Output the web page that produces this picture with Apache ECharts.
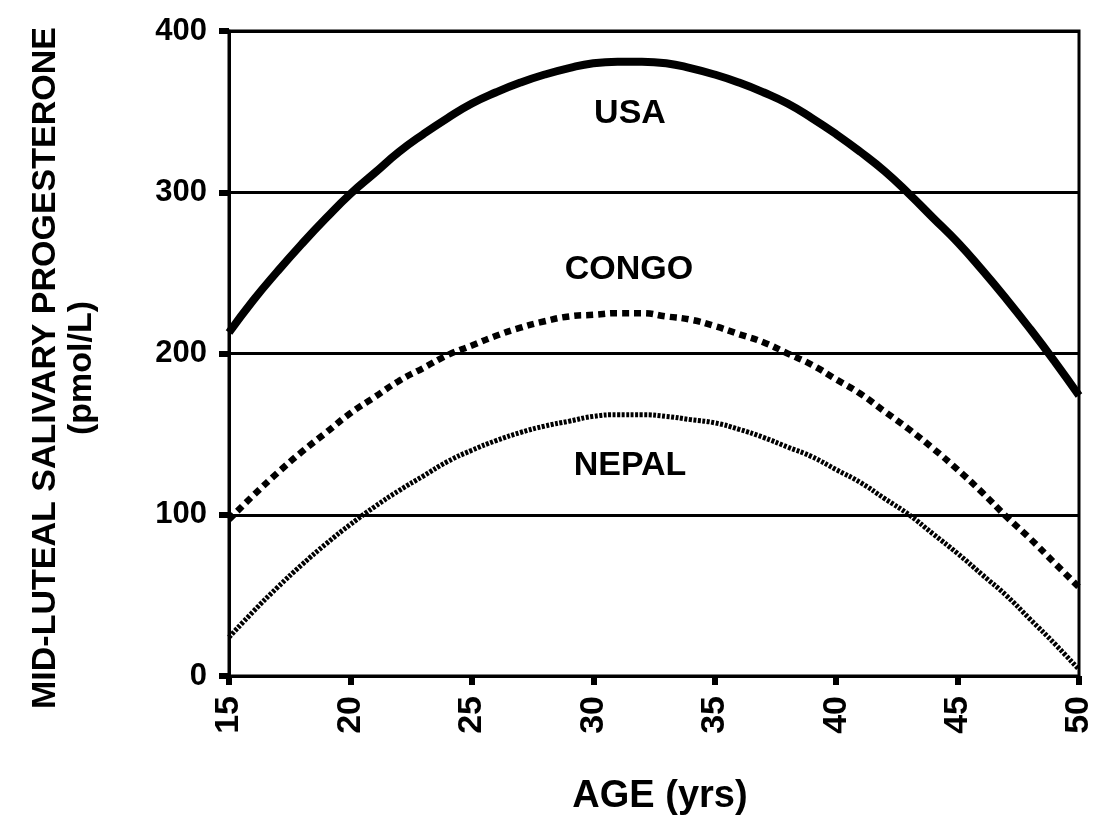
<!DOCTYPE html>
<html>
<head>
<meta charset="utf-8">
<script src="https://cdn.jsdelivr.net/npm/echarts@6/dist/echarts.min.js"></script>
<style>
  html, body { margin: 0; padding: 0; background: #fff; }
  #chart { width: 1097px; height: 836px; }
</style>
</head>
<body>
<div id="chart"></div>
<script>
// Age in years
var ages = [15,16,17,18,19,20,21,22,23,24,25,26,27,28,29,30,31,32,33,34,35,36,37,38,39,40,41,42,43,44,45,46,47,48,49,50];
// Mid-luteal salivary progesterone (pmol/L)
var usa   = [213,233,251,268,284,299,312,325,336,346,355,362,368,373,377,380,381,381,380,377,373,368,362,355,346,336,325,313,299,284,269,252,234,215,195,174];
var congo = [97,112,126,139,151,163,173,183,191,199,205,211,216,220,223,224,225,225,223,221,217,212,207,200,193,184,175,164,153,141,128,114,99,85,70,55];
var nepal = [24,40,55,69,82,94,105,115,124,133,140,146,151,155,158,161,162,162,161,159,157,153,148,142,136,128,120,110,100,88,76,63,50,35,20,4];
var yTicks = [0,100,200,300,400];
var xTicks = [15,20,25,30,35,40,45,50];
var seriesNames = ['USA','CONGO','NEPAL'];

function pairs(xs, ys) { return xs.map(function (x, i) { return [x, ys[i]]; }); }

var FONT = "'Liberation Sans', Arial, Helvetica, sans-serif";
var chart = echarts.init(document.getElementById('chart'), null, { renderer: 'canvas' });

chart.setOption({
  backgroundColor: '#ffffff',
  animation: false,
  grid: {
    left: 229, top: 31, width: 850, height: 645,
    show: true, borderColor: '#000', borderWidth: 3, backgroundColor: 'transparent'
  },
  xAxis: {
    type: 'value', min: 15, max: 50, interval: 5,
    axisLine: { show: true, lineStyle: { color: '#000', width: 3 } },
    axisTick: { show: true, inside: false, length: 9, lineStyle: { color: '#000', width: 6 } },
    axisLabel: {
      rotate: 90, margin: 20, color: '#000', fontSize: 34, fontWeight: 'bold', fontFamily: FONT,
      formatter: function (v) { return xTicks.indexOf(v) >= 0 ? String(v) : ''; }
    },
    splitLine: { show: false }
  },
  yAxis: {
    type: 'value', min: 0, max: 400, interval: 100,
    axisLine: { show: true, lineStyle: { color: '#000', width: 3 } },
    axisTick: { show: true, inside: false, length: 10, lineStyle: { color: '#000', width: 6 } },
    axisLabel: {
      margin: 22, color: '#000', fontSize: 31, fontWeight: 'bold', fontFamily: FONT,
      formatter: function (v) { return yTicks.indexOf(v) >= 0 ? String(v) : ''; }
    },
    splitLine: { show: true, lineStyle: { color: '#000', width: 3 } }
  },
  series: [
    {
      name: seriesNames[0], type: 'line', data: pairs(ages, usa), smooth: true,
      showSymbol: false, symbol: 'none',
      lineStyle: { color: '#000', width: 8, type: 'solid' }, z: 5
    },
    {
      name: seriesNames[1], type: 'line', data: pairs(ages, congo), smooth: true,
      showSymbol: false, symbol: 'none',
      lineStyle: { color: '#000', width: 6.5, type: [7, 5], cap: 'butt' }, z: 4
    },
    {
      name: seriesNames[2], type: 'line', data: pairs(ages, nepal), smooth: true,
      showSymbol: false, symbol: 'none',
      lineStyle: { color: '#000', width: 5, type: [3, 1.5], cap: 'butt' }, z: 3
    }
  ],
  graphic: [
    {
      type: 'text', x: 64, y: 368, rotation: Math.PI / 2,
      style: {
        text: 'MID-LUTEAL SALIVARY PROGESTERONE\n(pmol/L)',
        font: 'bold 34px ' + FONT, fill: '#000',
        align: 'center', verticalAlign: 'middle', lineHeight: 36
      }
    },
    {
      type: 'text', x: 660, y: 797,
      style: { text: 'AGE (yrs)', font: 'bold 38px ' + FONT, fill: '#000', align: 'center', verticalAlign: 'middle' }
    },
    {
      type: 'text', x: 630, y: 114,
      style: { text: seriesNames[0], font: 'bold 34px ' + FONT, fill: '#000', align: 'center', verticalAlign: 'middle' }
    },
    {
      type: 'text', x: 629, y: 270,
      style: { text: seriesNames[1], font: 'bold 34px ' + FONT, fill: '#000', align: 'center', verticalAlign: 'middle' }
    },
    {
      type: 'text', x: 630, y: 466,
      style: { text: seriesNames[2], font: 'bold 34px ' + FONT, fill: '#000', align: 'center', verticalAlign: 'middle' }
    }
  ]
});
</script>
</body>
</html>
